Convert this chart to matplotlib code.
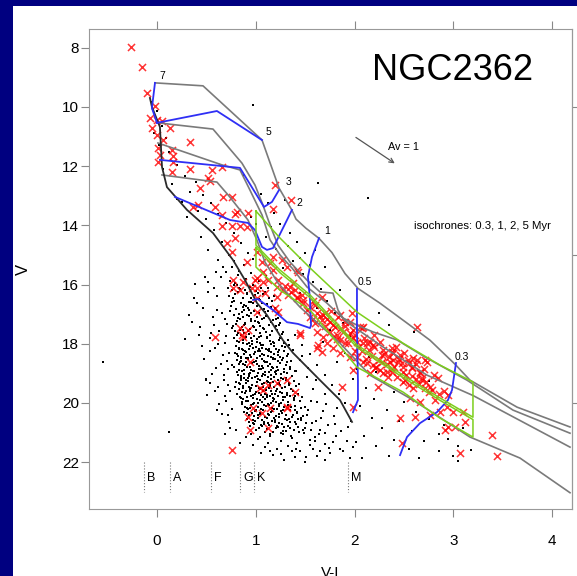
#Colour-magnitude diagram of NGC2362 with isochrones, mass tracks and the member box
import matplotlib.pyplot as plt
from matplotlib.patches import Rectangle

plt.rcParams['font.family'] = ['Liberation Sans', 'DejaVu Sans']

#Isochrones 0.3, 1, 2, 5 Myr (V-I, V)
iso03_x = [-0.02, 0.466, 1.063, 1.235, 1.366, 1.407, 1.508, 1.640, 1.771, 1.903, 2.034, 2.257, 2.530, 2.763, 3.016, 3.168, 3.644, 4.180]
iso03_v = [9.19, 9.29, 11.12, 12.74, 13.49, 13.79, 14.10, 14.44, 14.92, 15.63, 16.13, 16.63, 17.30, 17.88, 18.69, 19.23, 20.14, 20.81]
iso1_x = [0.01, 0.567, 0.860, 0.992, 1.073, 1.144, 1.225, 1.346, 1.518, 1.650, 1.781, 1.832, 1.883, 2.024, 2.186, 2.429, 2.713, 3.138, 3.603, 4.180]
iso1_v = [10.54, 10.75, 11.90, 12.64, 13.32, 13.99, 14.67, 15.24, 15.85, 16.25, 16.29, 16.86, 17.13, 17.37, 17.60, 17.87, 18.45, 19.23, 20.24, 21.02]
iso2_x = [0.01, 0.658, 0.840, 0.941, 1.063, 1.144, 1.245, 1.366, 1.518, 1.721, 1.923, 2.257, 2.733, 3.200, 4.180]
iso2_v = [11.22, 11.96, 12.13, 12.81, 13.65, 14.49, 15.00, 15.44, 16.08, 16.63, 17.27, 18.04, 19.06, 19.75, 21.49]
iso5_x = [0.051, 0.607, 0.729, 0.921, 1.012, 1.093, 1.225, 1.447, 1.852, 2.156, 2.591, 3.168, 3.674, 4.180]
iso5_v = [12.30, 12.54, 13.01, 13.82, 14.50, 15.24, 15.95, 16.76, 17.98, 19.06, 19.90, 21.15, 21.86, 23.03]

#ZAMS
zams_x = [-0.071, -0.051, 0.030, 0.051, 0.101, 0.304, 0.567, 0.769, 0.891, 1.012, 1.113, 1.275, 1.377, 1.650, 1.852, 1.974]
zams_v = [9.70, 10.00, 10.68, 12.03, 12.71, 13.48, 14.26, 15.17, 15.85, 16.62, 17.03, 17.88, 18.31, 19.23, 19.90, 20.64]

#Mass tracks (7, 5, 3, 2, 1, 0.5, 0.3 Msun)
track_labels = ['7', '5', '3', '2', '1', '0.5', '0.3']
track_x = [
    [-0.02, -0.051, 0.0],
    [0.0, 0.607, 1.063],
    [0.03, 0.840, 1.083, 1.164, 1.235],
    [0.182, 0.739, 0.921, 0.992, 1.063, 1.113, 1.174, 1.225, 1.316, 1.366],
    [0.972, 1.022, 1.174, 1.316, 1.427, 1.549, 1.559, 1.549, 1.528, 1.569, 1.640],
    [1.984, 2.034, 2.034, 2.024, 2.024],
    [2.460, 2.530, 2.662, 2.834, 2.945, 2.986, 3.026],
]
track_v = [
    [9.19, 10.04, 10.54],
    [10.54, 10.14, 11.12],
    [11.79, 12.06, 13.38, 13.21, 12.81],
    [13.04, 13.82, 13.92, 14.16, 14.73, 14.83, 14.77, 14.43, 13.82, 13.48],
    [16.52, 16.49, 16.86, 17.27, 17.33, 17.47, 17.37, 16.52, 15.74, 15.07, 14.43],
    [20.31, 19.90, 19.23, 17.54, 16.15],
    [21.76, 21.15, 20.68, 20.31, 19.90, 19.56, 18.65],
]
label_x = [0.056, 1.13, 1.33, 1.44, 1.72, 2.10, 3.09]
label_v = [8.96, 10.85, 12.55, 13.23, 14.19, 15.92, 18.45]

#Green selection boxes
box_x = [1.002, 1.245, 1.549, 2.024, 2.490, 2.864, 3.198]
box_top = [13.52, 14.43, 15.44, 16.93, 17.98, 18.72, 19.29]
box_mid = [14.67, 15.51, 16.35, 18.04, 19.06, 19.83, 20.48]
box_mid2 = [14.75, 15.60, 16.44, 18.12, 19.14, 19.91, 20.56]
box_bot = [15.41, 16.19, 16.86, 18.79, 19.63, 20.51, 21.15]

#Spectral types
sp_types = ['B', 'A', 'F', 'G', 'K', 'M']
sp_x = [-0.13, 0.13, 0.55, 0.84, 0.98, 1.93]

#Reddening vector Av = 1
av_start = (1.99, 10.98)
av_end = (2.43, 11.96)

#Cluster members (red crosses)
members = [(-0.263, 7.98), (-0.155, 8.66), (-0.104, 9.54), (-0.020, 9.97), (-0.071, 10.39), (0.0, 10.44),
    (0.047, 10.47), (-0.054, 10.72), (0.132, 10.72), (0.064, 11.12), (0.334, 11.18), (-0.003, 10.95),
    (0.013, 11.40), (0.149, 11.46), (0.030, 11.63), (0.165, 11.66), (0.013, 11.85), (0.165, 11.86),
    (0.149, 12.19), (0.334, 12.11), (0.554, 12.13), (0.655, 12.04), (0.519, 12.41), (0.536, 12.49),
    (0.435, 12.74), (0.671, 13.03), (0.756, 13.03), (0.367, 13.37), (0.418, 13.31), (0.587, 13.39),
    (0.807, 13.54), (0.789, 13.62), (0.655, 13.65), (0.924, 13.59), (0.655, 14.01), (0.756, 14.01),
    (0.840, 14.01), (0.908, 14.05), (0.789, 14.44), (0.705, 14.61), (0.756, 14.89), (1.194, 12.64),
    (1.353, 13.14), (1.177, 13.46), (1.060, 15.23), (1.144, 15.28), (1.076, 15.57), (1.177, 15.51),
    (0.992, 15.85), (1.127, 15.85), (1.228, 15.85), (1.262, 15.17), (1.414, 15.51), (1.212, 16.08),
    (1.279, 16.19), (1.329, 16.36), (1.212, 16.41), (1.093, 16.30), (1.667, 16.41), (1.009, 16.13),
    (0.840, 16.19), (0.772, 15.85), (1.009, 14.89), (0.908, 15.23), (1.177, 15.06), (1.313, 15.40),
    (1.430, 15.57), (1.076, 15.91), (1.346, 16.08), (1.397, 16.19), (1.465, 16.36), (1.414, 16.41),
    (1.481, 16.52), (1.194, 16.80), (1.228, 16.92), (0.924, 17.54), (0.857, 17.71), (1.447, 17.65),
    (1.549, 17.09), (1.599, 17.31), (1.667, 17.20), (1.700, 16.97), (1.852, 17.03), (1.903, 17.26),
    (2.088, 17.43), (1.616, 17.59), (1.683, 17.76), (1.784, 17.76), (1.852, 17.88), (1.903, 17.99),
    (1.987, 17.82), (2.038, 18.10), (2.123, 17.99), (2.257, 17.93), (2.290, 18.21), (2.392, 18.32),
    (2.460, 18.38), (2.594, 18.49), (2.628, 17.43), (2.021, 18.44), (2.088, 18.61), (2.189, 18.72),
    (2.290, 19.00), (2.375, 18.95), (2.493, 18.95), (2.662, 18.95), (0.941, 18.61), (1.683, 17.03),
    (1.835, 17.09), (1.970, 16.97), (1.987, 17.54), (2.072, 17.48), (1.751, 17.59), (1.819, 17.71),
    (1.936, 17.99), (2.088, 17.99), (2.156, 17.93), (2.375, 18.15), (2.392, 18.55), (2.544, 18.55),
    (2.628, 18.55), (2.713, 18.55), (2.274, 18.38), (2.493, 18.78), (2.578, 18.78), (2.662, 19.00),
    (2.679, 19.17), (2.847, 19.17), (2.426, 19.11), (2.325, 18.95), (2.206, 18.83), (2.123, 18.66),
    (1.953, 18.44), (1.852, 18.32), (1.784, 18.15), (1.718, 17.99), (1.987, 18.89), (2.156, 19.00),
    (2.510, 19.23), (2.763, 19.45), (1.869, 19.45), (2.240, 19.45), (2.594, 19.51), (2.189, 18.04),
    (2.375, 18.27), (2.358, 18.61), (2.443, 18.61), (2.733, 18.61), (2.578, 18.83), (2.679, 19.23),
    (2.713, 19.51), (2.493, 19.28), (2.257, 18.89), (2.341, 19.11), (2.753, 19.62), (2.561, 19.84),
    (2.662, 19.96), (2.814, 19.90), (2.932, 20.13), (2.864, 20.30), (2.999, 20.30), (3.100, 20.30),
    (2.460, 20.52), (2.611, 20.46), (2.763, 20.41), (2.948, 20.80), (3.016, 20.80), (3.117, 20.63),
    (2.477, 21.36), (3.067, 21.70), (3.388, 21.08), (3.438, 21.79), (2.915, 20.92), (2.948, 19.73),
    (1.987, 20.13), (1.447, 17.71), (1.397, 19.62), (1.313, 20.18), (1.633, 18.04), (2.055, 17.43),
    (1.009, 15.79), (0.874, 15.91), (0.772, 16.13), (0.958, 16.13), (1.009, 16.47), (1.009, 16.92),
    (0.587, 17.76), (0.840, 17.48), (0.874, 17.76), (1.043, 19.51), (1.076, 19.56), (1.127, 19.39),
    (1.212, 19.34), (1.313, 19.23), (0.975, 20.18), (1.060, 20.35), (1.144, 20.18), (1.313, 20.13),
    (0.924, 20.47), (0.941, 20.92), (1.127, 20.86), (0.756, 21.60), (1.616, 18.15), (1.667, 18.27),
    (1.55, 16.75), (1.62, 16.95), (1.75, 17.25), (1.80, 17.45), (1.95, 17.65), (2.00, 17.70),
    (2.10, 17.80), (2.20, 18.10), (2.30, 18.35), (2.45, 18.50), (2.55, 18.65), (2.70, 18.85),
    (2.80, 19.05), (1.70, 17.40), (1.88, 17.60), (2.25, 18.55), (2.40, 18.80), (2.62, 19.20),
    (2.35, 18.45), (1.58, 17.15)]
#densest part of the member band, where crosses overlap
members_band = [(1.30, 16.05), (1.36, 16.25), (1.42, 16.45), (1.48, 16.62), (1.52, 16.85), (1.60, 16.70),
    (1.65, 17.05), (1.72, 17.15), (1.78, 17.35), (1.85, 17.50), (1.90, 17.40), (1.93, 17.75), (2.02, 17.95),
    (2.08, 18.25), (2.15, 18.20), (2.18, 18.40), (2.28, 18.60), (2.33, 18.70), (2.38, 18.85), (2.48, 18.65),
    (2.52, 19.05), (2.58, 19.10), (2.65, 19.35), (2.72, 19.30), (2.78, 19.55), (2.85, 19.70), (2.62, 18.70),
    (2.50, 18.30), (2.42, 18.10), (2.20, 17.70), (1.95, 17.25), (1.76, 16.90), (1.58, 16.55), (1.38, 15.95),
    (2.12, 18.52), (2.22, 18.80), (2.55, 19.40), (2.90, 19.60), (1.82, 17.85), (2.00, 18.25)]

#Field stars (black dots), read region by region
field_core = [(0.81, 16.03), (0.89, 16.18), (0.94, 16.07), (1.00, 16.22), (1.05, 16.11), (0.84, 16.14), (0.97, 16.01),
    (0.76, 16.20), (1.09, 16.24), (0.79, 16.31), (0.87, 16.44), (0.91, 16.28), (0.99, 16.37), (1.03, 16.48),
    (0.82, 16.26), (1.07, 16.33), (0.95, 16.46), (0.73, 16.40), (1.13, 16.45), (0.78, 16.55), (0.88, 16.69),
    (0.93, 16.58), (1.01, 16.72), (1.04, 16.52), (0.85, 16.63), (1.11, 16.66), (0.75, 16.71), (0.97, 16.64),
    (1.16, 16.57), (0.90, 16.74), (0.80, 16.81), (0.86, 16.93), (0.92, 16.79), (0.98, 16.88), (1.03, 16.97),
    (0.88, 16.85), (1.08, 16.82), (1.12, 16.91), (0.83, 16.98), (0.95, 16.96), (1.19, 16.78), (0.74, 16.89),
    (0.78, 17.04), (0.84, 17.16), (0.91, 17.02), (0.95, 17.22), (1.01, 17.09), (1.06, 17.18), (1.10, 17.05),
    (1.17, 17.21), (0.87, 17.11), (0.99, 17.24), (0.81, 17.23), (1.22, 17.13), (0.93, 17.07), (0.80, 17.33),
    (0.86, 17.45), (0.89, 17.29), (0.97, 17.41), (1.02, 17.27), (1.07, 17.48), (1.13, 17.36), (1.19, 17.44),
    (1.25, 17.30), (0.88, 17.38), (0.94, 17.49), (1.04, 17.39), (0.76, 17.47), (0.79, 17.58), (0.85, 17.71),
    (0.87, 17.52), (0.93, 17.66), (1.00, 17.55), (1.05, 17.73), (1.10, 17.61), (1.14, 17.69), (1.21, 17.54),
    (1.27, 17.67), (0.88, 17.63), (0.98, 17.74), (1.08, 17.51), (0.82, 17.64), (0.78, 17.82), (0.83, 17.95),
    (0.90, 17.78), (0.96, 17.91), (1.01, 17.84), (1.04, 17.98), (1.11, 17.80), (1.17, 17.93), (1.23, 17.86),
    (1.29, 17.97), (0.93, 17.99), (1.03, 17.77), (1.14, 17.89), (0.81, 17.92), (0.80, 18.06), (0.86, 18.18),
    (0.91, 18.02), (0.97, 18.14), (1.02, 18.23), (1.07, 18.05), (1.13, 18.16), (1.18, 18.08), (1.24, 18.21),
    (1.30, 18.11), (0.89, 18.24), (1.00, 18.10), (1.10, 18.19), (1.34, 18.03), (0.83, 18.13), (0.79, 18.31),
    (0.85, 18.44), (0.90, 18.28), (0.94, 18.39), (1.01, 18.47), (1.06, 18.33), (1.12, 18.42), (1.15, 18.27),
    (1.22, 18.38), (1.28, 18.48), (1.33, 18.35), (0.92, 18.49), (1.04, 18.26), (1.17, 18.49), (0.82, 18.40),
    (0.81, 18.54), (0.87, 18.67), (0.92, 18.52), (0.98, 18.63), (1.03, 18.74), (1.08, 18.57), (1.14, 18.69),
    (1.19, 18.53), (1.25, 18.65), (1.31, 18.72), (1.36, 18.58), (0.89, 18.73), (1.00, 18.59), (1.11, 18.62),
    (0.84, 18.61), (0.78, 18.79), (0.86, 18.92), (0.91, 18.77), (0.95, 18.88), (1.02, 18.98), (1.07, 18.81),
    (1.13, 18.94), (1.16, 18.78), (1.22, 18.90), (1.29, 18.97), (1.35, 18.84), (0.94, 18.99), (1.05, 18.86),
    (1.19, 18.96), (0.83, 18.89), (1.40, 18.93), (0.82, 19.04), (0.88, 19.17), (0.93, 19.02), (0.99, 19.13),
    (1.04, 19.23), (1.09, 19.06), (1.15, 19.19), (1.20, 19.03), (1.26, 19.15), (1.31, 19.22), (1.37, 19.09),
    (0.90, 19.24), (1.01, 19.08), (1.12, 19.12), (0.85, 19.14), (1.22, 19.24), (0.80, 19.29), (0.87, 19.42),
    (0.92, 19.27), (0.96, 19.38), (1.03, 19.48), (1.08, 19.31), (1.14, 19.44), (1.17, 19.28), (1.25, 19.40),
    (1.30, 19.47), (1.34, 19.34), (0.95, 19.49), (1.06, 19.36), (1.18, 19.46), (0.84, 19.37), (1.41, 19.43),
    (1.11, 19.26), (0.83, 19.54), (0.89, 19.67), (0.94, 19.52), (1.00, 19.63), (1.05, 19.73), (1.10, 19.56),
    (1.16, 19.69), (1.21, 19.53), (1.27, 19.65), (1.32, 19.72), (1.38, 19.59), (0.97, 19.74), (1.07, 19.61),
    (1.19, 19.71), (0.86, 19.62), (1.43, 19.68), (1.13, 19.51), (0.84, 19.79), (0.90, 19.92), (0.95, 19.77),
    (1.01, 19.88), (1.06, 19.98), (1.11, 19.81), (1.17, 19.94), (1.22, 19.78), (1.28, 19.90), (1.33, 19.97),
    (1.39, 19.84), (0.98, 19.99), (1.09, 19.86), (1.20, 19.96), (0.87, 19.87), (1.45, 19.93), (1.14, 19.76),
    (0.86, 20.04), (0.91, 20.17), (0.97, 20.02), (1.02, 20.13), (1.07, 20.23), (1.13, 20.06), (1.18, 20.19),
    (1.24, 20.03), (1.29, 20.15), (1.35, 20.22), (1.40, 20.09), (1.00, 20.24), (1.10, 20.11), (1.21, 20.21),
    (0.89, 20.12), (1.46, 20.18), (1.15, 20.01), (0.88, 20.29), (0.93, 20.42), (0.99, 20.27), (1.04, 20.38),
    (1.09, 20.48), (1.15, 20.31), (1.20, 20.44), (1.26, 20.28), (1.31, 20.40), (1.37, 20.47), (1.42, 20.34),
    (1.02, 20.49), (1.12, 20.36), (1.23, 20.46), (0.96, 20.35), (1.48, 20.43), (0.91, 20.54), (0.97, 20.67),
    (1.02, 20.52), (1.08, 20.63), (1.13, 20.73), (1.19, 20.56), (1.24, 20.69), (1.30, 20.53), (1.35, 20.65),
    (1.41, 20.72), (1.46, 20.59), (1.05, 20.74), (1.16, 20.61), (1.27, 20.71), (0.99, 20.60), (1.51, 20.66),
    (0.94, 20.79), (1.00, 20.92), (1.06, 20.77), (1.11, 20.88), (1.17, 20.98), (1.22, 20.81), (1.28, 20.94),
    (1.33, 20.78), (1.39, 20.90), (1.44, 20.97), (1.50, 20.84), (1.09, 20.99), (1.20, 20.86), (1.31, 20.96),
    (1.03, 20.85), (1.56, 20.91)]
field_core2 = [(0.835, 16.12), (0.912, 16.33), (0.768, 16.47), (1.022, 16.29), (0.953, 16.58), (0.866, 16.77),
    (1.061, 16.61), (0.781, 16.02), (0.928, 16.86), (1.097, 16.94), (0.817, 17.14), (0.948, 17.17), (1.036, 17.31),
    (0.893, 17.34), (1.152, 17.26), (0.771, 17.39), (1.085, 17.12), (0.985, 17.44), (1.206, 17.41), (0.843, 17.53),
    (0.918, 17.57), (1.047, 17.62), (1.168, 17.58), (0.806, 17.71), (0.952, 17.81), (1.118, 17.76), (1.246, 17.79),
    (0.874, 17.86), (1.012, 17.93), (1.183, 17.99), (0.795, 18.09), (0.942, 18.06), (1.068, 18.13), (1.205, 18.17),
    (0.866, 18.21), (1.135, 18.24), (1.287, 18.26), (0.978, 18.33), (0.812, 18.36), (1.041, 18.41), (1.242, 18.43),
    (0.903, 18.47), (1.176, 18.51), (0.846, 18.58), (0.958, 18.66), (1.094, 18.63), (1.312, 18.61), (0.763, 18.71),
    (1.218, 18.77), (1.029, 18.84), (0.881, 18.87), (1.151, 18.88), (1.342, 18.79), (0.968, 18.93), (0.812, 18.97),
    (1.256, 19.01), (1.074, 19.01), (0.935, 19.09), (1.188, 19.11), (0.853, 19.21), (1.021, 19.18), (1.301, 19.14),
    (1.125, 19.28), (0.902, 19.33), (1.382, 19.27), (0.787, 19.45), (0.998, 19.41), (1.221, 19.37), (1.072, 19.47),
    (0.866, 19.51), (1.153, 19.58), (1.353, 19.52), (0.943, 19.60), (1.245, 19.62), (1.029, 19.66), (0.808, 19.71),
    (1.118, 19.74), (1.296, 19.79), (0.914, 19.81), (1.401, 19.76), (1.047, 19.91), (1.187, 19.87), (0.856, 19.96),
    (1.251, 20.00), (0.956, 20.07), (1.081, 20.08), (1.324, 20.06), (1.164, 20.16), (0.921, 20.21), (1.401, 20.24),
    (1.047, 20.33), (1.263, 20.35), (0.985, 20.44), (1.136, 20.41), (1.381, 20.39), (1.186, 20.52), (1.061, 20.58),
    (1.455, 20.51), (0.935, 20.63), (1.312, 20.59), (1.212, 20.77), (1.126, 20.69), (1.428, 20.81), (0.986, 20.71),
    (1.351, 20.86), (1.253, 21.02), (1.145, 21.06), (1.484, 21.01), (1.042, 21.14), (1.361, 21.11),
    (0.872, 17.96), (0.962, 18.01), (1.053, 18.04), (1.151, 18.02), (1.262, 18.07), (0.832, 18.18), (0.927, 18.16),
    (1.028, 18.19), (1.127, 18.21), (1.223, 18.29), (0.883, 18.36), (0.991, 18.29), (1.086, 18.37), (1.186, 18.33),
    (1.311, 18.42), (0.852, 18.48), (0.956, 18.45), (1.058, 18.52), (1.157, 18.45), (1.263, 18.55), (0.902, 18.61),
    (1.017, 18.67), (1.122, 18.74), (1.223, 18.58), (0.832, 18.70), (0.946, 18.79), (1.063, 18.74), (1.178, 18.81),
    (1.284, 18.85), (0.882, 19.01), (0.986, 18.92), (1.098, 18.96), (1.205, 18.93), (1.318, 18.99), (0.846, 19.09),
    (0.958, 19.14), (1.062, 19.10), (1.158, 19.05), (1.271, 19.20), (0.921, 19.17), (1.017, 19.28), (1.141, 19.33),
    (1.239, 19.31), (1.335, 19.40), (0.829, 19.32), (0.933, 19.46), (1.041, 19.54), (1.149, 19.39), (1.262, 19.49),
    (0.898, 19.60), (0.988, 19.69), (1.094, 19.68), (1.203, 19.61), (1.315, 19.66), (0.852, 19.82), (0.971, 19.84),
    (1.071, 19.79), (1.173, 19.83), (1.275, 19.79), (1.382, 19.91), (0.918, 19.94), (1.023, 20.01), (1.128, 20.04),
    (1.232, 20.11), (1.352, 20.14), (0.946, 20.16), (1.052, 20.19), (1.166, 20.26), (1.276, 20.24), (1.418, 20.29),
    (0.912, 20.33), (1.021, 20.42), (1.112, 20.51), (1.232, 20.37), (1.338, 20.53), (0.972, 20.56), (1.083, 20.71),
    (1.196, 20.64), (1.288, 20.82), (1.396, 20.64)]
field_halo = [(0.52, 16.25), (0.61, 16.40), (0.47, 16.78), (0.66, 16.95), (0.57, 17.10), (0.71, 17.32), (0.44, 17.45),
    (0.63, 17.58), (0.54, 17.80), (0.69, 17.97), (0.59, 18.14), (0.73, 18.30), (0.48, 18.52), (0.65, 18.67),
    (0.72, 18.85), (0.56, 19.02), (0.68, 19.23), (0.62, 19.45), (0.74, 19.60), (0.51, 19.72), (0.70, 19.94),
    (0.76, 20.20), (0.66, 20.38), (0.73, 20.65), (0.80, 20.90), (0.69, 21.05), (0.58, 17.35), (0.41, 16.62),
    (0.35, 17.27), (0.38, 15.98), (0.49, 15.75), (0.60, 15.58), (0.67, 15.42), (0.72, 16.12), (0.76, 16.58),
    (0.74, 15.88), (1.38, 18.20), (1.45, 18.55), (1.41, 18.91), (1.52, 19.12), (1.44, 19.35), (1.58, 19.52),
    (1.47, 19.80), (1.62, 19.95), (1.50, 20.15), (1.68, 20.28), (1.43, 20.55), (1.57, 20.68), (1.73, 20.75),
    (1.48, 20.92), (1.64, 21.05), (1.81, 21.12), (1.55, 21.25), (1.37, 21.18), (1.70, 21.38), (1.86, 20.95),
    (1.92, 21.30), (1.28, 17.60), (1.33, 17.88), (1.24, 17.35), (1.40, 17.70), (1.47, 18.05), (1.55, 18.35),
    (1.62, 18.72), (1.70, 19.05), (1.77, 19.40), (1.84, 19.68), (1.90, 20.00), (1.79, 20.45), (1.96, 20.62),
    (0.90, 21.15), (1.02, 21.22), (1.14, 21.12), (1.26, 21.30), (0.97, 21.42), (1.09, 21.48), (1.21, 21.56),
    (1.33, 21.45), (1.45, 21.62), (1.58, 21.55), (1.17, 21.75), (1.40, 21.82), (1.62, 21.78), (1.29, 21.92),
    (1.50, 21.98), (1.75, 21.70), (0.84, 21.35), (1.05, 21.70), (0.78, 15.22), (0.88, 15.35), (0.83, 15.55),
    (0.95, 15.62), (0.90, 15.80), (1.03, 15.88), (0.79, 15.95), (1.10, 15.70), (0.97, 15.15), (1.12, 16.10),
    (1.18, 16.40), (1.15, 16.75), (1.22, 16.95), (1.20, 17.15), (1.35, 19.75), (1.52, 20.40), (1.66, 20.50),
    (1.28, 21.05), (1.42, 21.35), (1.60, 21.30), (1.85, 21.55), (1.12, 21.35), (0.95, 21.05),
    (0.612, 16.85), (0.685, 17.18), (0.548, 17.62), (0.702, 17.75), (0.621, 18.02), (0.668, 18.38), (0.539, 18.26),
    (0.712, 18.58), (0.601, 18.83), (0.676, 19.05), (0.538, 19.31), (0.721, 19.38), (0.584, 19.58), (0.688, 19.77),
    (0.631, 20.05), (0.716, 20.41), (0.604, 20.25), (0.742, 20.85), (0.455, 18.08), (0.495, 19.18), (0.426, 17.71),
    (0.372, 16.45), (0.328, 17.02), (0.285, 17.85), (0.513, 15.92), (0.573, 16.12), (0.645, 15.76), (0.701, 15.58),
    (0.758, 15.41), (0.825, 15.68), (1.525, 20.22), (1.612, 20.61), (1.701, 21.02), (1.782, 21.31), (1.883, 21.62),
    (1.545, 21.42), (1.652, 21.62), (1.742, 21.51), (1.362, 21.62), (1.251, 21.71), (1.143, 21.61), (1.412, 21.55),
    (1.512, 21.81), (1.702, 21.92), (1.952, 21.85), (2.012, 21.32), (1.935, 20.82), (1.821, 20.18), (1.702, 19.71),
    (1.613, 19.22), (1.531, 18.82), (1.472, 18.42), (1.556, 19.92), (1.711, 20.05), (1.806, 20.71), (1.652, 20.92),
    (1.595, 21.15)]
field_upper = [(0.05, 10.65), (-0.03, 10.88), (0.09, 11.05), (0.02, 11.30), (0.12, 11.52), (0.20, 11.95), (0.06, 12.10),
    (0.28, 12.35), (0.15, 12.62), (0.40, 12.55), (0.33, 12.88), (0.47, 12.98), (0.25, 13.20), (0.55, 13.25),
    (0.42, 13.50), (0.62, 13.62), (0.50, 13.80), (0.70, 13.92), (0.58, 14.15), (0.78, 14.25), (0.45, 14.40),
    (0.66, 14.55), (0.85, 14.60), (0.52, 14.85), (0.73, 15.00), (0.92, 14.95), (0.62, 15.18), (1.05, 12.95),
    (1.12, 13.25), (1.18, 13.60), (1.25, 13.95), (1.30, 13.15), (1.35, 14.25), (1.42, 14.55), (1.20, 14.80),
    (1.50, 14.95), (1.38, 15.20), (1.10, 14.40), (1.28, 15.45), (1.55, 15.35), (0.30, 13.72), (0.20, 13.10),
    (0.97, 9.94), (1.63, 12.57), (2.14, 13.08), (0.95, 13.72), (-0.05, 9.82), (0.00, 10.15), (0.88, 12.30),
    (1.00, 13.95), (1.15, 14.05), (1.33, 14.70), (1.45, 15.10), (1.60, 14.85)]
field_band = [(1.48, 15.65), (1.58, 15.90), (1.66, 16.15), (1.45, 16.30), (1.72, 16.55), (1.62, 16.80), (1.80, 16.95),
    (1.55, 17.05), (1.88, 17.30), (1.75, 17.55), (1.95, 17.75), (1.68, 17.95), (2.05, 18.10), (1.90, 18.30),
    (2.15, 18.45), (1.82, 18.62), (2.02, 18.85), (2.22, 18.95), (1.98, 19.20), (2.30, 19.30), (2.12, 19.50),
    (2.40, 19.62), (2.20, 19.85), (2.50, 19.95), (2.05, 20.10), (2.33, 20.22), (2.62, 20.30), (2.18, 20.50),
    (2.45, 20.62), (2.75, 20.55), (2.28, 20.85), (2.58, 20.95), (2.85, 21.05), (2.10, 21.10), (2.40, 21.25),
    (2.70, 21.30), (2.95, 21.20), (2.22, 21.45), (2.55, 21.55), (2.85, 21.62), (3.05, 21.45), (2.35, 21.80),
    (3.00, 21.80), (3.18, 21.60), (2.65, 21.85), (1.98, 21.50), (2.08, 21.85), (3.10, 20.85), (2.90, 20.75),
    (2.25, 16.95), (2.60, 17.60), (1.70, 15.40), (2.35, 17.35), (1.85, 16.20), (2.75, 19.25), (3.05, 21.95),
    (-0.55, 18.62), (0.12, 20.98), (0.50, 19.23)]

fig = plt.figure(figsize=(5.77, 5.76), dpi=100, facecolor='#000080')
#white slide area behind the plot
fig.patches.append(Rectangle((0.0225, 0), 1, 0.9896, transform=fig.transFigure, facecolor='white', edgecolor='none', zorder=-5))
ax = fig.add_axes([0.1542, 0.1163, 0.8371, 0.8334])
ax.set_zorder(2)

#Field stars first, then members, then the model lines on top
for group in [field_core, field_core2, field_halo, field_upper, field_band]:
    ax.scatter([p[0] for p in group], [p[1] for p in group], s=2.0, c='black', marker='s', linewidths=0, zorder=1)

for group in [members, members_band]:
    ax.scatter([p[0] for p in group], [p[1] for p in group], s=26, c='red', marker='x', linewidths=1.1, alpha=0.8, zorder=2)

for ix, iv in [(iso03_x, iso03_v), (iso1_x, iso1_v), (iso2_x, iso2_v), (iso5_x, iso5_v)]:
    ax.plot(ix, iv, color='#7a7a7a', lw=1.2, zorder=3)
ax.plot(zams_x, zams_v, color='#2a2a2a', lw=1.3, zorder=3)

for tx, tv in zip(track_x, track_v):
    ax.plot(tx, tv, color='#2f2ff5', lw=1.3, zorder=4)
for lab, lx, lv in zip(track_labels, label_x, label_v):
    ax.text(lx, lv, lab, fontsize=7.5, ha='center', va='center', zorder=5)

#Two green boxes sharing the middle edge
green = '#7ccf1c'
ax.plot(box_x + box_x[::-1] + [box_x[0]], box_top + box_mid[::-1] + [box_top[0]], color=green, lw=1.1, zorder=4)
ax.plot(box_x + box_x[::-1] + [box_x[0]], box_mid2 + box_bot[::-1] + [box_mid2[0]], color=green, lw=1.1, zorder=4)

#Spectral type markers
ax.vlines(sp_x, 22.0, 23.0, colors='#777777', linestyles=':', lw=0.8)
for s, sx in zip(sp_types, sp_x):
    ax.text(sx + 0.03, 22.53, s, fontsize=9, ha='left', va='center')

ax.annotate('', xy=av_end, xytext=av_start,
            arrowprops=dict(arrowstyle='->', color='#555555', lw=0.9, mutation_scale=8))
ax.text(2.34, 11.34, 'Av = 1', fontsize=7.8, ha='left', va='center')
ax.text(2.60, 14.02, 'isochrones: 0.3, 1, 2, 5 Myr', fontsize=8.2, ha='left', va='center')
ax.text(2.18, 9.09, 'NGC2362', fontsize=26, ha='left', va='baseline')

ax.set_xlim(-0.688, 4.20)
ax.set_ylim(23.58, 7.37)
ax.set_xticks([0, 1, 2, 3, 4])
ax.set_yticks([8, 10, 12, 14, 16, 18, 20, 22])
ax.tick_params(axis='x', which='both', direction='out', length=6, pad=12, labelsize=11, color='#888888', top=True)
ax.tick_params(axis='y', direction='out', length=6, pad=1, labelsize=11, color='#888888')
sec = ax.secondary_yaxis('right')
sec.set_yticks([10, 15, 20])
sec.set_yticklabels([])
sec.tick_params(length=7, color='#888888')
sec.spines['right'].set_color('#888888')
for sp in ax.spines.values():
    sp.set_color('#999999')

ax.set_xlabel('V-I', fontsize=11)
ax.xaxis.set_label_coords(0.5, -0.118)
ax.set_ylabel('V', fontsize=12)
ax.yaxis.set_label_coords(-0.12, 0.5)

plt.savefig('out.png', dpi=100, facecolor=fig.get_facecolor())
